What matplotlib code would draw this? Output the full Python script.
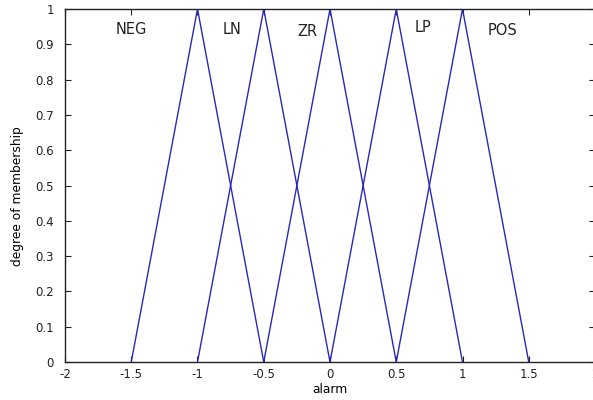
import matplotlib
matplotlib.use('Agg')
import matplotlib.pyplot as plt
import numpy as np

# membership functions (triangles): name, left foot, peak, right foot
mf_names = ['NEG', 'LN', 'ZR', 'LP', 'POS']
mf_params = [[-1.5, -1.0, -0.5],
             [-1.0, -0.5, 0.0],
             [-0.5, 0.0, 0.5],
             [0.0, 0.5, 1.0],
             [0.5, 1.0, 1.5]]
# where the names sit on the plot
label_x = [-1.5, -0.74, -0.17, 0.70, 1.30]
label_y = [0.943, 0.943, 0.935, 0.947, 0.94]

x_ticks = [-2, -1.5, -1, -0.5, 0, 0.5, 1, 1.5, 2]
x_ticklabels = ['-2', '-1.5', '-1', '-0.5', '0', '0.5', '1', '1.5', '2']
y_ticks = [0, 0.1, 0.2, 0.3, 0.4, 0.5, 0.6, 0.7, 0.8, 0.9, 1]
y_ticklabels = ['0', '0.1', '0.2', '0.3', '0.4', '0.5', '0.6', '0.7', '0.8', '0.9', '1']

plt.rcParams['font.family'] = ['DejaVu Sans']
plt.rcParams['xtick.direction'] = 'in'
plt.rcParams['ytick.direction'] = 'in'
plt.rcParams['xtick.top'] = True
plt.rcParams['ytick.right'] = True

fig = plt.figure(figsize=(5.93, 4.0), dpi=100)
ax = fig.add_axes([0.1096, 0.095, 0.8938, 0.8825])

line_color = '#2828b8'
for p in mf_params:
    ax.plot(p, [0, 1, 0], color=line_color, linewidth=1.0)

for name, lx, ly in zip(mf_names, label_x, label_y):
    ax.text(lx, ly, name, ha='center', va='center', fontsize=10.5, color='#222222')

ax.set_xlim(-2, 2)
ax.set_ylim(0, 1)
ax.set_xticks(x_ticks)
ax.set_xticklabels(x_ticklabels)
ax.set_yticks(y_ticks)
ax.set_yticklabels(y_ticklabels)
ax.tick_params(labelsize=8.5, length=4, width=0.8, colors='#222222')
ax.tick_params(axis='y', pad=8)
ax.tick_params(axis='x', pad=4)
for s in ax.spines.values():
    s.set_linewidth(1.0)
    s.set_color('#222222')

ax.set_xlabel('alarm', fontsize=8.8, labelpad=2)
ax.set_ylabel('degree of membership', fontsize=8.8, labelpad=6)
ax.yaxis.set_label_coords(-0.077, 0.47)

fig.savefig('out.png', dpi=100)
